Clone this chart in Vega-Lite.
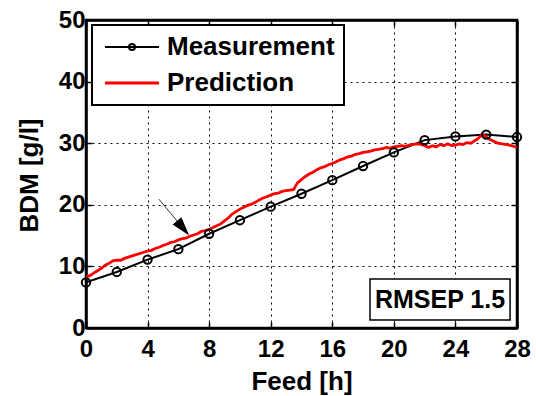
{
  "$schema": "https://vega.github.io/schema/vega-lite/v6.json",
  "width": 431,
  "height": 308,
  "autosize": {"type": "none"},
  "padding": {"left": 86, "top": 20, "right": 19, "bottom": 68},
  "background": "white",
  "config": {
    "font": "Liberation Sans",
    "view": {"stroke": "black", "strokeWidth": 2.5},
    "axis": {
      "domainColor": "black", "domainWidth": 2.5,
      "tickColor": "black", "tickWidth": 1.5, "tickSize": -6,
      "labelFont": "Liberation Sans", "labelFontSize": 24, "labelFontWeight": "bold", "labelColor": "black",
      "titleFont": "Liberation Sans", "titleFontSize": 26, "titleFontWeight": "bold", "titleColor": "black",
      "gridColor": "black", "gridDash": [2, 4], "gridWidth": 1, "gridOpacity": 1,
      "labelFlush": false
    }
  },
  "datasets": {
    "series": [
      {"series": "Measurement", "feed": 0, "bdm": 7.4},
      {"series": "Measurement", "feed": 2, "bdm": 9.1},
      {"series": "Measurement", "feed": 4, "bdm": 11.1},
      {"series": "Measurement", "feed": 6, "bdm": 12.8},
      {"series": "Measurement", "feed": 8, "bdm": 15.3},
      {"series": "Measurement", "feed": 10, "bdm": 17.5},
      {"series": "Measurement", "feed": 12, "bdm": 19.7},
      {"series": "Measurement", "feed": 14, "bdm": 21.8},
      {"series": "Measurement", "feed": 16, "bdm": 24.0},
      {"series": "Measurement", "feed": 18, "bdm": 26.3},
      {"series": "Measurement", "feed": 20, "bdm": 28.5},
      {"series": "Measurement", "feed": 22, "bdm": 30.5},
      {"series": "Measurement", "feed": 24, "bdm": 31.1},
      {"series": "Measurement", "feed": 26, "bdm": 31.4},
      {"series": "Measurement", "feed": 28, "bdm": 31.0},
      {"series": "Prediction", "feed": 0, "bdm": 8.3},
      {"series": "Prediction", "feed": 0.25, "bdm": 8.5},
      {"series": "Prediction", "feed": 0.5, "bdm": 8.9},
      {"series": "Prediction", "feed": 0.75, "bdm": 9.3},
      {"series": "Prediction", "feed": 1.0, "bdm": 9.7},
      {"series": "Prediction", "feed": 1.25, "bdm": 10.2},
      {"series": "Prediction", "feed": 1.5, "bdm": 10.5},
      {"series": "Prediction", "feed": 1.75, "bdm": 10.9},
      {"series": "Prediction", "feed": 2.0, "bdm": 11.0},
      {"series": "Prediction", "feed": 2.25, "bdm": 11.0},
      {"series": "Prediction", "feed": 2.5, "bdm": 11.3},
      {"series": "Prediction", "feed": 2.75, "bdm": 11.5},
      {"series": "Prediction", "feed": 3.0, "bdm": 11.7},
      {"series": "Prediction", "feed": 3.25, "bdm": 11.9},
      {"series": "Prediction", "feed": 3.5, "bdm": 12.1},
      {"series": "Prediction", "feed": 3.75, "bdm": 12.3},
      {"series": "Prediction", "feed": 4.0, "bdm": 12.5},
      {"series": "Prediction", "feed": 4.25, "bdm": 12.6},
      {"series": "Prediction", "feed": 4.5, "bdm": 12.9},
      {"series": "Prediction", "feed": 4.75, "bdm": 13.1},
      {"series": "Prediction", "feed": 5.0, "bdm": 13.4},
      {"series": "Prediction", "feed": 5.25, "bdm": 13.6},
      {"series": "Prediction", "feed": 5.5, "bdm": 13.9},
      {"series": "Prediction", "feed": 5.75, "bdm": 14.0},
      {"series": "Prediction", "feed": 6.0, "bdm": 14.3},
      {"series": "Prediction", "feed": 6.25, "bdm": 14.5},
      {"series": "Prediction", "feed": 6.5, "bdm": 14.6},
      {"series": "Prediction", "feed": 6.75, "bdm": 14.9},
      {"series": "Prediction", "feed": 7.0, "bdm": 15.1},
      {"series": "Prediction", "feed": 7.25, "bdm": 15.3},
      {"series": "Prediction", "feed": 7.5, "bdm": 15.7},
      {"series": "Prediction", "feed": 7.75, "bdm": 15.8},
      {"series": "Prediction", "feed": 8.0, "bdm": 16.0},
      {"series": "Prediction", "feed": 8.25, "bdm": 16.3},
      {"series": "Prediction", "feed": 8.5, "bdm": 16.6},
      {"series": "Prediction", "feed": 8.75, "bdm": 16.9},
      {"series": "Prediction", "feed": 9.0, "bdm": 17.4},
      {"series": "Prediction", "feed": 9.25, "bdm": 17.9},
      {"series": "Prediction", "feed": 9.5, "bdm": 18.5},
      {"series": "Prediction", "feed": 9.75, "bdm": 18.9},
      {"series": "Prediction", "feed": 10.0, "bdm": 19.3},
      {"series": "Prediction", "feed": 10.25, "bdm": 19.6},
      {"series": "Prediction", "feed": 10.5, "bdm": 19.9},
      {"series": "Prediction", "feed": 10.75, "bdm": 20.1},
      {"series": "Prediction", "feed": 11.0, "bdm": 20.4},
      {"series": "Prediction", "feed": 11.25, "bdm": 20.8},
      {"series": "Prediction", "feed": 11.5, "bdm": 21.1},
      {"series": "Prediction", "feed": 11.75, "bdm": 21.3},
      {"series": "Prediction", "feed": 12.0, "bdm": 21.6},
      {"series": "Prediction", "feed": 12.25, "bdm": 21.8},
      {"series": "Prediction", "feed": 12.5, "bdm": 21.9},
      {"series": "Prediction", "feed": 12.75, "bdm": 22.2},
      {"series": "Prediction", "feed": 13.0, "bdm": 22.3},
      {"series": "Prediction", "feed": 13.25, "bdm": 22.4},
      {"series": "Prediction", "feed": 13.5, "bdm": 22.5},
      {"series": "Prediction", "feed": 13.6, "bdm": 23.0},
      {"series": "Prediction", "feed": 13.75, "bdm": 23.6},
      {"series": "Prediction", "feed": 14.0, "bdm": 24.1},
      {"series": "Prediction", "feed": 14.25, "bdm": 24.6},
      {"series": "Prediction", "feed": 14.5, "bdm": 25.0},
      {"series": "Prediction", "feed": 14.75, "bdm": 25.3},
      {"series": "Prediction", "feed": 15.0, "bdm": 25.7},
      {"series": "Prediction", "feed": 15.25, "bdm": 26.0},
      {"series": "Prediction", "feed": 15.5, "bdm": 26.2},
      {"series": "Prediction", "feed": 15.75, "bdm": 26.5},
      {"series": "Prediction", "feed": 16.0, "bdm": 26.7},
      {"series": "Prediction", "feed": 16.25, "bdm": 27.0},
      {"series": "Prediction", "feed": 16.5, "bdm": 27.3},
      {"series": "Prediction", "feed": 16.75, "bdm": 27.5},
      {"series": "Prediction", "feed": 17.0, "bdm": 27.8},
      {"series": "Prediction", "feed": 17.25, "bdm": 27.9},
      {"series": "Prediction", "feed": 17.5, "bdm": 28.2},
      {"series": "Prediction", "feed": 17.75, "bdm": 28.3},
      {"series": "Prediction", "feed": 18.0, "bdm": 28.5},
      {"series": "Prediction", "feed": 18.25, "bdm": 28.6},
      {"series": "Prediction", "feed": 18.5, "bdm": 28.7},
      {"series": "Prediction", "feed": 18.75, "bdm": 28.9},
      {"series": "Prediction", "feed": 19.0, "bdm": 29.0},
      {"series": "Prediction", "feed": 19.25, "bdm": 29.1},
      {"series": "Prediction", "feed": 19.5, "bdm": 29.3},
      {"series": "Prediction", "feed": 19.75, "bdm": 29.2},
      {"series": "Prediction", "feed": 20.0, "bdm": 29.4},
      {"series": "Prediction", "feed": 20.25, "bdm": 29.5},
      {"series": "Prediction", "feed": 20.5, "bdm": 29.6},
      {"series": "Prediction", "feed": 20.75, "bdm": 29.5},
      {"series": "Prediction", "feed": 21.0, "bdm": 29.7},
      {"series": "Prediction", "feed": 21.25, "bdm": 29.8},
      {"series": "Prediction", "feed": 21.5, "bdm": 29.9},
      {"series": "Prediction", "feed": 21.75, "bdm": 29.8},
      {"series": "Prediction", "feed": 22.0, "bdm": 29.6},
      {"series": "Prediction", "feed": 22.25, "bdm": 29.3},
      {"series": "Prediction", "feed": 22.5, "bdm": 29.6},
      {"series": "Prediction", "feed": 22.75, "bdm": 29.4},
      {"series": "Prediction", "feed": 23.0, "bdm": 29.8},
      {"series": "Prediction", "feed": 23.25, "bdm": 29.6},
      {"series": "Prediction", "feed": 23.5, "bdm": 29.9},
      {"series": "Prediction", "feed": 23.75, "bdm": 29.6},
      {"series": "Prediction", "feed": 24.0, "bdm": 29.7},
      {"series": "Prediction", "feed": 24.25, "bdm": 29.9},
      {"series": "Prediction", "feed": 24.5, "bdm": 29.8},
      {"series": "Prediction", "feed": 24.75, "bdm": 30.1},
      {"series": "Prediction", "feed": 25.0, "bdm": 30.0},
      {"series": "Prediction", "feed": 25.25, "bdm": 30.4},
      {"series": "Prediction", "feed": 25.5, "bdm": 30.8},
      {"series": "Prediction", "feed": 25.75, "bdm": 31.5},
      {"series": "Prediction", "feed": 26.0, "bdm": 31.0},
      {"series": "Prediction", "feed": 26.25, "bdm": 30.6},
      {"series": "Prediction", "feed": 26.5, "bdm": 30.3},
      {"series": "Prediction", "feed": 26.75, "bdm": 30.0},
      {"series": "Prediction", "feed": 27.0, "bdm": 29.9},
      {"series": "Prediction", "feed": 27.25, "bdm": 29.8},
      {"series": "Prediction", "feed": 27.5, "bdm": 29.7},
      {"series": "Prediction", "feed": 27.75, "bdm": 29.5},
      {"series": "Prediction", "feed": 28.0, "bdm": 29.3}
    ],
    "arrow": [{"x": 4.74, "y": 20.9, "x2": 6.31, "y2": 16.2}],
    "box": [{"x": 18.45, "x2": 27.55, "y": 1.3, "y2": 7.95, "xc": 23.0, "yc": 4.6, "label": "RMSEP 1.5"}]
  },
  "resolve": {"axis": {"x": "independent", "y": "independent"}},
  "layer": [
    {
      "data": {"name": "series"},
      "mark": {"type": "line", "clip": true},
      "encoding": {
        "x": {"field": "feed", "type": "quantitative",
          "scale": {"domain": [0, 28], "nice": false, "zero": false},
          "axis": {"orient": "bottom", "values": [0, 4, 8, 12, 16, 20, 24, 28], "grid": true,
            "title": "Feed [h]", "titleX": 215.5, "titleY": 61, "titleBaseline": "alphabetic", "titleAlign": "center", "titleAnchor": null,
            "labelPadding": 15}},
        "y": {"field": "bdm", "type": "quantitative",
          "scale": {"domain": [0, 50], "nice": false, "zero": false},
          "axis": {"orient": "left", "values": [0, 10, 20, 30, 40, 50], "grid": true,
            "title": "BDM [g/l]", "titleX": -49, "titleY": 155, "titleBaseline": "alphabetic", "titleAlign": "center", "titleAngle": -90,
            "labelPadding": 7}},
        "color": {"field": "series", "type": "nominal",
          "scale": {"domain": ["Measurement", "Prediction"], "range": ["black", "#ff0000"]},
          "legend": {
            "orient": "none", "legendX": 6, "legendY": 5, "title": null,
            "labelFont": "Liberation Sans", "labelFontSize": 26, "labelFontWeight": "bold", "labelColor": "black",
            "labelLimit": 400,
            "symbolSize": 400, "symbolStrokeWidth": 2, "padding": 9, "rowPadding": 10, "labelOffset": 40,
            "strokeColor": "black", "fillColor": "white",
            "encode": {
              "legend": {"update": {"strokeWidth": {"value": 2}}},
              "symbols": {"update": {
                "shape": {"signal": "datum.value === 'Measurement' ? 'M-0.9,0H4.5M1.5,0A0.3,0.3 0 1,1 2.1,0A0.3,0.3 0 1,1 1.5,0' : 'M-0.9,0H4.5'"},
                "fill": {"value": "white"}
              }}
            }
          }},
        "strokeWidth": {"field": "series", "type": "nominal",
          "scale": {"domain": ["Measurement", "Prediction"], "range": [2, 2.8]}, "legend": null}
      }
    },
    {
      "data": {"name": "series"},
      "transform": [{"filter": "datum.series === 'Measurement'"}],
      "mark": {"type": "point", "filled": false, "color": "black", "strokeWidth": 2, "size": 70, "opacity": 1},
      "encoding": {
        "x": {"field": "feed", "type": "quantitative",
          "axis": {"orient": "top", "values": [0, 4, 8, 12, 16, 20, 24, 28], "labels": false, "grid": false, "title": null}},
        "y": {"field": "bdm", "type": "quantitative",
          "axis": {"orient": "right", "values": [0, 10, 20, 30, 40, 50], "labels": false, "grid": false, "title": null}}
      }
    },
    {
      "data": {"name": "arrow"},
      "mark": {"type": "rule", "color": "#333333", "strokeWidth": 1},
      "encoding": {
        "x": {"field": "x", "type": "quantitative", "axis": null},
        "y": {"field": "y", "type": "quantitative", "axis": null},
        "x2": {"field": "x2"},
        "y2": {"field": "y2"}
      }
    },
    {
      "data": {"name": "arrow"},
      "mark": {"type": "point", "shape": "M0,-1L0.6,1L-0.6,1Z", "filled": true, "color": "black", "size": 361, "angle": 140, "opacity": 1},
      "encoding": {
        "x": {"field": "x2", "type": "quantitative", "axis": null},
        "y": {"field": "y2", "type": "quantitative", "axis": null}
      }
    },
    {
      "data": {"name": "box"},
      "mark": {"type": "rect", "fill": "white", "stroke": "black", "strokeWidth": 1.5},
      "encoding": {
        "x": {"field": "x", "type": "quantitative", "axis": null},
        "x2": {"field": "x2"},
        "y": {"field": "y", "type": "quantitative", "axis": null},
        "y2": {"field": "y2"}
      }
    },
    {
      "data": {"name": "box"},
      "mark": {"type": "text", "font": "Liberation Sans", "fontSize": 25, "fontWeight": "bold", "color": "black", "align": "center", "baseline": "middle"},
      "encoding": {
        "x": {"field": "xc", "type": "quantitative", "axis": null},
        "y": {"field": "yc", "type": "quantitative", "axis": null},
        "text": {"field": "label"}
      }
    }
  ]
}
